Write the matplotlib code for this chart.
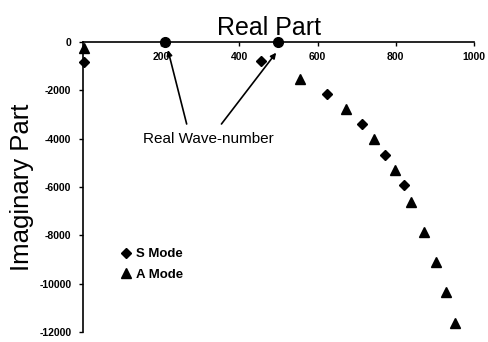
import matplotlib
matplotlib.use("Agg")
import matplotlib.pyplot as plt
from matplotlib.lines import Line2D

# ============================================================
# DATA
# ============================================================
S_REAL = [2, 455, 625, 713, 772, 820]
S_IMAG = [-830, -780, -2150, -3390, -4655, -5920]

A_REAL = [2, 556, 673, 745, 798, 839, 873, 904, 930, 953]
A_IMAG = [-250, -1530, -2780, -4020, -5290, -6600, -7840, -9080, -10360, -11625]

WAVE_REAL = [210, 500]
WAVE_IMAG = [0, 0]

X_TICKS = [200, 400, 600, 800, 1000]
Y_TICKS = [0, -2000, -4000, -6000, -8000, -10000, -12000]

# ============================================================
# STYLE
# ============================================================
plt.rcParams.update({
    "font.family": ["Liberation Sans", "DejaVu Sans"],
    "axes.linewidth": 1.2,
})

fig = plt.figure(figsize=(4.89, 3.42), dpi=100)
ax = fig.add_axes([0.170, 0.029, 0.799, 0.848])

ax.plot(S_REAL, S_IMAG, linestyle="none", marker="D", markersize=5.5,
        color="black", clip_on=False, zorder=3)
ax.plot(A_REAL, A_IMAG, linestyle="none", marker="^", markersize=6.5,
        color="black", clip_on=False, zorder=3)
ax.plot(WAVE_REAL, WAVE_IMAG, linestyle="none", marker="o", markersize=7,
        color="black", clip_on=False, zorder=4)

ax.set_xlim(0, 1000)
ax.set_ylim(-12000, 0)

# x axis sits on the zero line at the top
ax.spines["bottom"].set_position(("data", 0))
ax.spines["top"].set_visible(False)
ax.spines["right"].set_visible(False)

ax.set_xticks(X_TICKS)
ax.set_yticks(Y_TICKS)
ax.set_yticklabels([str(v) for v in Y_TICKS])
ax.tick_params(axis="x", direction="out", length=3, width=1, pad=4, labelsize=7.5)
ax.tick_params(axis="y", direction="out", length=3, width=1, pad=5.5, labelsize=7.5)
for lab in ax.get_xticklabels() + ax.get_yticklabels():
    lab.set_fontweight("bold")

ax.set_title("Real Part", fontsize=18, pad=5, x=0.475)
ax.set_ylabel("Imaginary Part", fontsize=18.5, labelpad=4)

# annotation
ax.text(320, -4010, "Real Wave-number", fontsize=11, ha="center", va="center")
arrow = dict(arrowstyle="-|>", lw=1.2, color="black", mutation_scale=8,
             shrinkA=0, shrinkB=0)
ax.annotate("", xy=(217, -330), xytext=(265, -3390), arrowprops=arrow)
ax.annotate("", xy=(494, -440), xytext=(354, -3390), arrowprops=arrow)

handles = [
    Line2D([0], [0], marker="D", color="black", linestyle="none", markersize=5.5,
           label="S Mode"),
    Line2D([0], [0], marker="^", color="black", linestyle="none", markersize=6.5,
           label="A Mode"),
]
ax.legend(handles=handles, loc="upper left", bbox_to_anchor=(0.065, 0.33),
          frameon=False, handlelength=0.8, handletextpad=0.4, labelspacing=0.6,
          prop={"weight": "bold", "size": 9.5})

fig.savefig("out.png", dpi=100)
